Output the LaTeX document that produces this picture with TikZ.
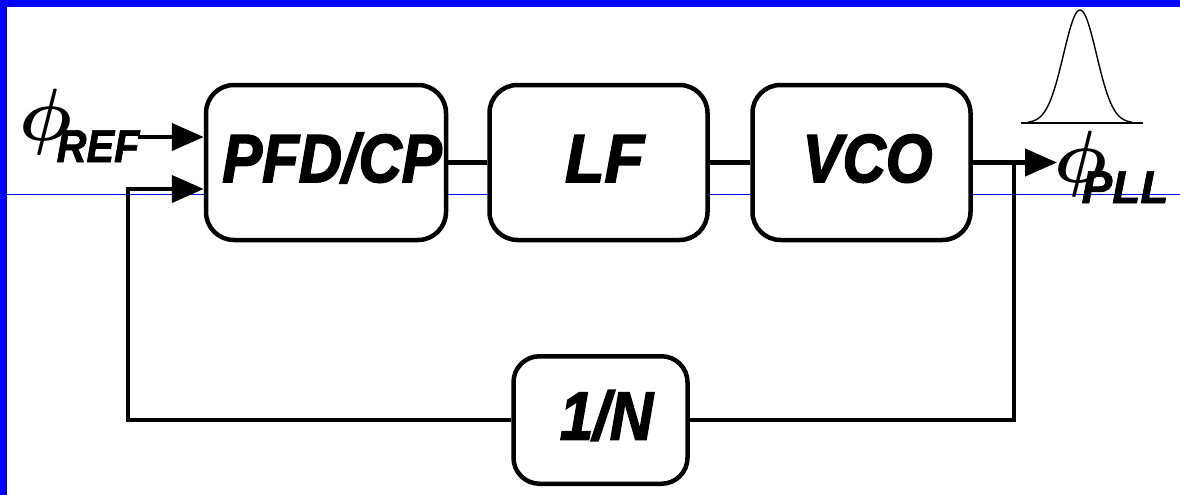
\documentclass[tikz,border=0pt]{standalone}
\usepackage{fontspec}
\newfontfamily\labelfont[FakeBold=2.5]{Liberation Sans Bold Italic}
\newfontfamily\subfont[FakeBold=1.5]{Liberation Sans Bold Italic}
\usetikzlibrary{arrows.meta}
\definecolor{frameblue}{RGB}{0,0,255}
\newcommand{\narrow}[1]{\hspace*{12pt}\scalebox{0.88}[1]{#1}}
\newcommand{\phase}{\scalebox{7.4}{\boldmath$\phi$}}
\begin{document}
\begin{tikzpicture}[x=1pt,y=-1pt,
  block/.style={draw, line width=4.5pt, rounded corners=28pt, fill=white,
    inner sep=0pt, text height=49pt, text depth=10pt,
    font=\labelfont\fontsize{68}{68}\selectfont},
  wire/.style={line width=4.5pt},
  sig/.style={wire, -{Triangle[length=32pt,width=27pt]}},
  sub/.style={inner sep=0pt, anchor=base,
    font=\subfont\fontsize{46}{46}\selectfont},
  phaselabel/.style={inner sep=0pt}
]
\useasboundingbox (0,0) rectangle (1180,495);
\fill[white] (0,0) rectangle (1180,495);

% frame and guide line
\fill[frameblue] (0,0) rectangle (1180,7);
\fill[frameblue] (0,0) rectangle (7,495);
\draw[frameblue, line width=1pt] (7,194) -- (1180,194);

% blocks
\node[block, minimum width=240pt, minimum height=155pt] (pfd) at (326,162.5) {\narrow{PFD/CP}};
\node[block, minimum width=218pt, minimum height=155pt] (lf) at (598.5,162.5) {\hspace*{12pt}\scalebox{0.95}[1]{LF}};
\node[block, minimum width=218pt, minimum height=155pt] (vco) at (861.5,162.5) {\narrow{VCO}};
\node[block, minimum width=174pt, minimum height=127.5pt, rounded corners=26pt] (div) at (600.5,420) {\narrow{1/N}};

% connection points
\coordinate (refin) at (138,137);
\coordinate (tap) at (1014,162.5);
\coordinate (out) at (1057,162.5);
\coordinate (fbl) at (128,189);

% forward path
\draw[wire] (pfd) -- (lf);
\draw[wire] (lf) -- (vco);
\draw[sig] (vco.east) -- (out);
\draw[sig] (refin) -- (refin -| pfd.west);

% feedback path through the divider
\draw[wire] (tap) |- (div.east);
\draw[sig] (div.west) -| (fbl) -- (fbl -| pfd.west);

% phase labels
\node[phaselabel] (phiref) at (46,121.5) {\phase};
\node[sub] (refsub) at (98,162) {\scalebox{0.9}[1]{REF}};
\node[phaselabel] (phipll) at (1081,164) {\phase};
\node[sub] (pllsub) at (1125,203) {PLL};

% output spectrum
\draw[line width=1.4pt] plot[domain=1028:1132, samples=120, smooth]
  (\x, {123-113*exp(-((\x-1080)/16.5)^2/2)});
\draw[line width=2.2pt] (1021,123) -- (1143,123);
\end{tikzpicture}
\end{document}
